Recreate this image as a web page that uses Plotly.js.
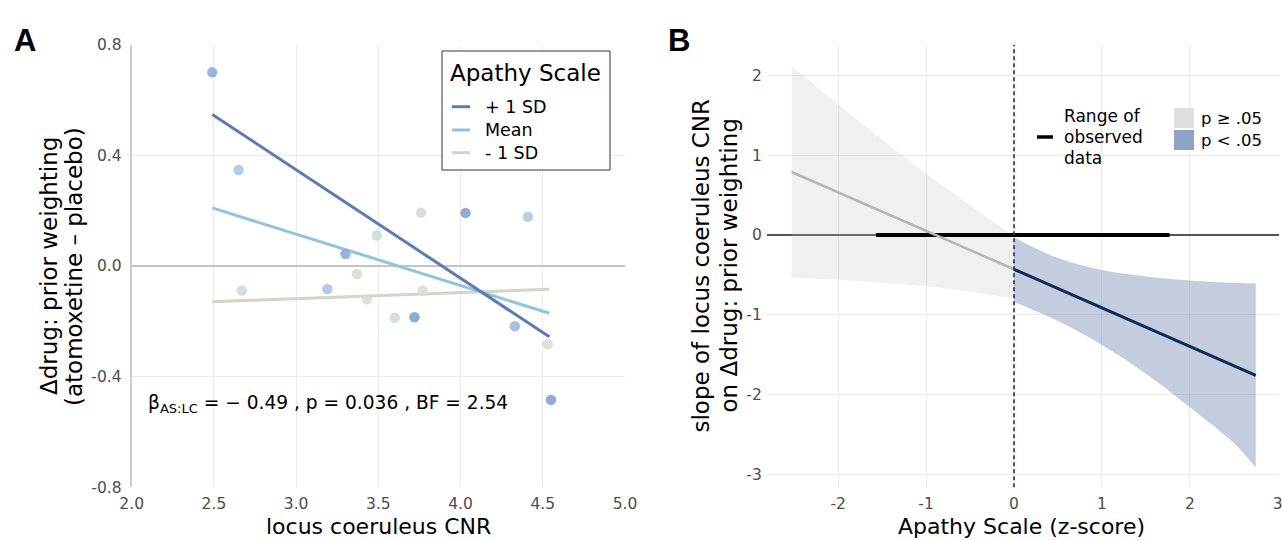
<!DOCTYPE html>
<html><head><meta charset="utf-8">
<script src="https://cdn.plot.ly/plotly-3.0.1.min.js"></script>
<style>html,body{margin:0;padding:0;background:#fff}</style>
</head><body><div id="chart" style="width:1282px;height:540px"></div>
<script>
// ---------- Panel A data ----------
const cnr = [2.49, 2.65, 2.67, 3.19, 3.30, 3.37, 3.43, 3.49, 3.60, 3.72, 3.76, 3.77, 4.03, 4.41, 4.33, 4.53, 4.55];
const deltaPrior = [0.70, 0.347, -0.089, -0.083, 0.043, -0.029, -0.12, 0.11, -0.187, -0.185, 0.193, -0.089, 0.192, 0.178, -0.218, -0.283, -0.484];
const apathy = [0.8, 0.15, -0.5, 0.2, 0.85, -1.0, -1.15, -0.55, -0.55, 1.05, -0.9, -1.25, 1.05, 0.05, 0.55, -1.35, 1.05];
const fitX = [2.49, 4.54];
const fitPlus1SD = [0.548, -0.256];
const fitMean = [0.21, -0.171];
const fitMinus1SD = [-0.129, -0.084];
const groupLabels = ['+ 1 SD', 'Mean', '- 1 SD'];
const xTicksA = [2, 2.5, 3, 3.5, 4, 4.5, 5];
const xTickTextA = ['2.0', '2.5', '3.0', '3.5', '4.0', '4.5', '5.0'];
const yTicksA = [-0.8, -0.4, 0, 0.4, 0.8];
const yTickTextA = ['-0.8', '-0.4', '0.0', '0.4', '0.8'];
const statText = 'β<sub>AS:LC</sub> = − 0.49 , p = 0.036 , BF = 2.54';

// ---------- Panel B data ----------
const zNonSig = [-2.53, -2, -1.5, -1, -0.5, 0];
const upperNonSig = [2.12, 1.64, 1.19, 0.77, 0.37, -0.01];
const lowerNonSig = [-0.53, -0.56, -0.60, -0.64, -0.71, -0.80];
const zSig = [0, 0.5, 1, 1.5, 2, 2.5, 2.75];
const upperSig = [-0.03, -0.29, -0.44, -0.52, -0.57, -0.60, -0.61];
const lowerSig = [-0.84, -1.08, -1.38, -1.74, -2.16, -2.61, -2.92];
const slopeNonSigZ = [-2.53, 0];
const slopeNonSig = [0.79, -0.43];
const slopeSigZ = [0, 2.75];
const slopeSig = [-0.43, -1.76];
const observedRange = [-1.57, 1.77];
const xTicksB = [-2, -1, 0, 1, 2, 3];
const yTicksB = [-3, -2, -1, 0, 1, 2];

// ---------- styling ----------
const W = 1282, H = 540;
const F = 'DejaVu Sans';
const px = x => x / W;
const py = y => 1 - y / H;
const colPlus = '#5a7bb5', colMean = '#8ec4e2', colMinus = '#d0d6c4';

const traces = [
  {x: fitX, y: fitMinus1SD, xaxis: 'x', yaxis: 'y', mode: 'lines', line: {color: colMinus, width: 3}, name: groupLabels[2], showlegend: false, hoverinfo: 'skip'},
  {x: fitX, y: fitMean, xaxis: 'x', yaxis: 'y', mode: 'lines', line: {color: colMean, width: 3}, name: groupLabels[1], showlegend: false, hoverinfo: 'skip'},
  {x: fitX, y: fitPlus1SD, xaxis: 'x', yaxis: 'y', mode: 'lines', line: {color: colPlus, width: 3}, name: groupLabels[0], showlegend: false, hoverinfo: 'skip'},
  {x: cnr, y: deltaPrior, xaxis: 'x', yaxis: 'y', mode: 'markers', showlegend: false,
   marker: {size: 10.5, color: apathy, cmin: -1.4, cmax: 1.2, opacity: 0.85,
     colorscale: [[0, '#dddcc9'], [0.35, '#c6dbd6'], [0.55, '#a9c9e6'], [0.75, '#9ab4de'], [1, '#7695cc']],
     line: {width: 0}}},
  // Panel B ribbons
  {x: zNonSig, y: lowerNonSig, xaxis: 'x2', yaxis: 'y2', mode: 'lines', line: {width: 0, color: 'rgba(0,0,0,0)'}, showlegend: false, hoverinfo: 'skip'},
  {x: zNonSig, y: upperNonSig, xaxis: 'x2', yaxis: 'y2', mode: 'lines', line: {width: 0, color: 'rgba(0,0,0,0)'}, fill: 'tonexty', fillcolor: 'rgba(185,185,185,0.22)', showlegend: false, hoverinfo: 'skip'},
  {x: zSig, y: lowerSig, xaxis: 'x2', yaxis: 'y2', mode: 'lines', line: {width: 0, color: 'rgba(0,0,0,0)', shape: 'spline'}, showlegend: false, hoverinfo: 'skip'},
  {x: zSig, y: upperSig, xaxis: 'x2', yaxis: 'y2', mode: 'lines', line: {width: 0, color: 'rgba(0,0,0,0)', shape: 'spline'}, fill: 'tonexty', fillcolor: 'rgba(115,139,177,0.43)', showlegend: false, hoverinfo: 'skip'},
  {x: observedRange, y: [0, 0], xaxis: 'x2', yaxis: 'y2', mode: 'lines', line: {color: '#000000', width: 4}, showlegend: false, hoverinfo: 'skip'},
  {x: slopeNonSigZ, y: slopeNonSig, xaxis: 'x2', yaxis: 'y2', mode: 'lines', line: {color: '#b5b5b5', width: 2.5}, showlegend: false, hoverinfo: 'skip'},
  {x: slopeSigZ, y: slopeSig, xaxis: 'x2', yaxis: 'y2', mode: 'lines', line: {color: '#0e2a5a', width: 3}, showlegend: false, hoverinfo: 'skip'}
];

const tickFont = {family: F, size: 15.5, color: '#4d4d4d'};
const axisCommon = {showgrid: true, gridcolor: '#ebebeb', gridwidth: 1, ticks: '', tickfont: tickFont, fixedrange: true, ticklabeloverflow: 'allow'};

const layout = {
  width: W, height: H,
  margin: {l: 0, r: 0, t: 0, b: 0, pad: 0},
  paper_bgcolor: '#ffffff', plot_bgcolor: '#ffffff',
  font: {family: F, color: '#000000'},
  showlegend: false,
  xaxis: Object.assign({}, axisCommon, {domain: [px(131.7), px(625)], range: [2, 5], tickvals: xTicksA, ticktext: xTickTextA, zeroline: false, showline: false, anchor: 'y', ticklabelstandoff: 5}),
  yaxis: Object.assign({}, axisCommon, {domain: [py(487.3), py(44.7)], range: [-0.8, 0.8], tickvals: yTicksA, ticktext: yTickTextA, zeroline: true, zerolinecolor: '#c4c4c4', zerolinewidth: 2.5, showline: true, linecolor: '#cdcdcd', linewidth: 2, anchor: 'x', ticklabelstandoff: 5}),
  xaxis2: Object.assign({}, axisCommon, {domain: [px(766.8), px(1278.7)], range: [-2.812, 3.011], tickvals: xTicksB, ticktext: xTicksB.map(String), zeroline: false, showline: false, anchor: 'y2', ticklabelstandoff: 5}),
  yaxis2: Object.assign({}, axisCommon, {domain: [py(487.3), py(44.7)], range: [-3.164, 2.386], tickvals: yTicksB, ticktext: yTicksB.map(String), zeroline: true, zerolinecolor: '#555555', zerolinewidth: 1.3, showline: false, anchor: 'x2', ticklabelstandoff: 4}),
  shapes: [
    // dashed reference line at z = 0
    {type: 'line', xref: 'x2', yref: 'y2 domain', x0: 0, x1: 0, y0: 0, y1: 1, line: {color: '#15305c', width: 1.6, dash: '4px,3px'}, layer: 'above'},
    // Legend A box
    {type: 'rect', xref: 'paper', yref: 'paper', x0: px(442), x1: px(610), y0: py(170), y1: py(51), line: {color: '#333333', width: 1}, fillcolor: '#ffffff', layer: 'above'},
    {type: 'line', xref: 'paper', yref: 'paper', x0: px(452), x1: px(470), y0: py(106.7), y1: py(106.7), line: {color: colPlus, width: 3}, layer: 'above'},
    {type: 'line', xref: 'paper', yref: 'paper', x0: px(452), x1: px(470), y0: py(130), y1: py(130), line: {color: colMean, width: 3}, layer: 'above'},
    {type: 'line', xref: 'paper', yref: 'paper', x0: px(452), x1: px(470), y0: py(152.7), y1: py(152.7), line: {color: colMinus, width: 3}, layer: 'above'},
    // Legend B
    {type: 'line', xref: 'paper', yref: 'paper', x0: px(1037), x1: px(1053), y0: py(137), y1: py(137), line: {color: '#000000', width: 3.5}, layer: 'above'},
    {type: 'rect', xref: 'paper', yref: 'paper', x0: px(1174), x1: px(1194), y0: py(128), y1: py(108), line: {width: 0}, fillcolor: '#dedede', layer: 'above'},
    {type: 'rect', xref: 'paper', yref: 'paper', x0: px(1174), x1: px(1194), y0: py(150), y1: py(130), line: {width: 0}, fillcolor: '#8ea4c7', layer: 'above'}
  ],
  annotations: [
    {text: '<b>A</b>', xref: 'paper', yref: 'paper', x: px(25), y: py(40), xanchor: 'center', yanchor: 'middle', showarrow: false, font: {family: 'Liberation Sans', size: 31, color: '#000'}},
    {text: '<b>B</b>', xref: 'paper', yref: 'paper', x: px(679), y: py(40), xanchor: 'center', yanchor: 'middle', showarrow: false, font: {family: 'Liberation Sans', size: 31, color: '#000'}},
    // axis titles A
    {text: 'locus coeruleus CNR', xref: 'paper', yref: 'paper', x: px(378), y: py(526.5), xanchor: 'center', yanchor: 'middle', showarrow: false, font: {family: F, size: 22, color: '#000'}},
    {text: 'Δdrug: prior weighting', xref: 'paper', yref: 'paper', x: px(48.5), y: py(266.5), xanchor: 'center', yanchor: 'middle', textangle: -90, showarrow: false, font: {family: F, size: 23, color: '#000'}},
    {text: '(atomoxetine – placebo)', xref: 'paper', yref: 'paper', x: px(73.5), y: py(266.5), xanchor: 'center', yanchor: 'middle', textangle: -90, showarrow: false, font: {family: F, size: 23, color: '#000'}},
    // axis titles B
    {text: 'Apathy Scale (z-score)', xref: 'paper', yref: 'paper', x: px(1022), y: py(526.5), xanchor: 'center', yanchor: 'middle', showarrow: false, font: {family: F, size: 22, color: '#000'}},
    {text: 'slope of locus coeruleus CNR', xref: 'paper', yref: 'paper', x: px(700), y: py(265.5), xanchor: 'center', yanchor: 'middle', textangle: -90, showarrow: false, font: {family: F, size: 23, color: '#000'}},
    {text: 'on Δdrug: prior weighting', xref: 'paper', yref: 'paper', x: px(728), y: py(265.5), xanchor: 'center', yanchor: 'middle', textangle: -90, showarrow: false, font: {family: F, size: 23, color: '#000'}},
    // stats text
    {text: statText, xref: 'paper', yref: 'paper', x: px(146), y: py(404), xanchor: 'left', yanchor: 'middle', showarrow: false, font: {family: F, size: 18.6, color: '#000'}},
    // legend A text
    {text: 'Apathy Scale', xref: 'paper', yref: 'paper', x: px(448), y: py(73), xanchor: 'left', yanchor: 'middle', showarrow: false, font: {family: F, size: 23, color: '#000'}},
    {text: groupLabels[0], xref: 'paper', yref: 'paper', x: px(483), y: py(106.7), xanchor: 'left', yanchor: 'middle', showarrow: false, font: {family: F, size: 17.5, color: '#000'}},
    {text: groupLabels[1], xref: 'paper', yref: 'paper', x: px(483), y: py(130), xanchor: 'left', yanchor: 'middle', showarrow: false, font: {family: F, size: 17.5, color: '#000'}},
    {text: groupLabels[2], xref: 'paper', yref: 'paper', x: px(483), y: py(152.7), xanchor: 'left', yanchor: 'middle', showarrow: false, font: {family: F, size: 17.5, color: '#000'}},
    // legend B text
    {text: 'Range of', xref: 'paper', yref: 'paper', x: px(1062), y: py(116), xanchor: 'left', yanchor: 'middle', showarrow: false, font: {family: F, size: 17, color: '#000'}},
    {text: 'observed', xref: 'paper', yref: 'paper', x: px(1062), y: py(137), xanchor: 'left', yanchor: 'middle', showarrow: false, font: {family: F, size: 17, color: '#000'}},
    {text: 'data', xref: 'paper', yref: 'paper', x: px(1062), y: py(158), xanchor: 'left', yanchor: 'middle', showarrow: false, font: {family: F, size: 17, color: '#000'}},
    {text: 'p ≥ .05', xref: 'paper', yref: 'paper', x: px(1199), y: py(118), xanchor: 'left', yanchor: 'middle', showarrow: false, font: {family: F, size: 16.5, color: '#000'}},
    {text: 'p < .05', xref: 'paper', yref: 'paper', x: px(1199), y: py(140), xanchor: 'left', yanchor: 'middle', showarrow: false, font: {family: F, size: 16.5, color: '#000'}}
  ]
};

Plotly.newPlot('chart', traces, layout, {staticPlot: true, displayModeBar: false});
</script>
</body></html>
